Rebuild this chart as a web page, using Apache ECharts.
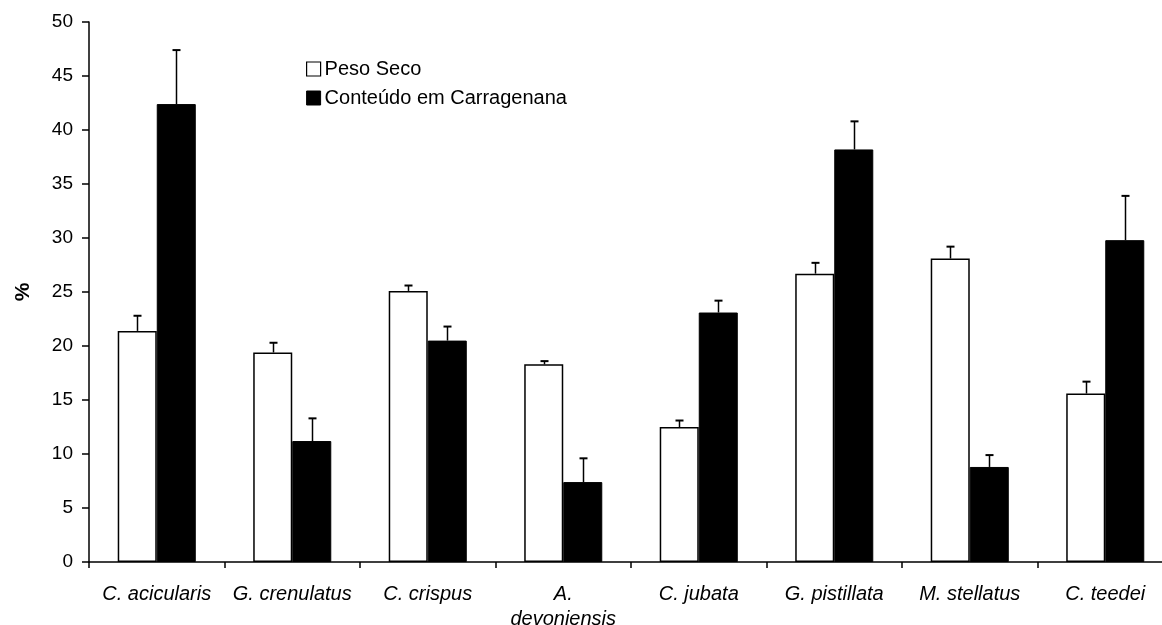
<!DOCTYPE html>
<html>
<head>
<meta charset="utf-8">
<script src="https://cdn.jsdelivr.net/npm/echarts@6/dist/echarts.min.js"></script>
<style>
html,body{margin:0;padding:0;background:#fff;}
#chart{width:1162px;height:625px;}
</style>
</head>
<body>
<div id="chart"></div>
<script>
const categories = ["C. acicularis", "G. crenulatus", "C. crispus", "A.\ndevoniensis", "C. jubata", "G. pistillata", "M. stellatus", "C. teedei"];
const seriesNames = ["Peso Seco", "Conteúdo em Carragenana"];
const pesoSeco = [21.4, 19.4, 25.1, 18.3, 12.5, 26.7, 28.1, 15.6];
const pesoSecoErr = [1.4, 0.9, 0.5, 0.3, 0.6, 1.0, 1.1, 1.1];
const carragenana = [42.4, 11.2, 20.5, 7.4, 23.1, 38.2, 8.8, 29.8];
const carragenanaErr = [5.0, 2.1, 1.3, 2.2, 1.1, 2.6, 1.1, 4.1];
const yTicks = [0, 5, 10, 15, 20, 25, 30, 35, 40, 45, 50];

const GAP = 0.424;
const FONT = "'Liberation Sans', Arial, Helvetica, sans-serif";

function errSeries(values, errs, side) {
  return {
    type: 'custom',
    z: 5,
    silent: true,
    data: values.map((v, i) => [i, v, errs[i]]),
    renderItem: function (params, api) {
      const i = api.value(0), v = api.value(1), e = api.value(2);
      const catW = api.size([1, 0])[0];
      const barW = catW * (1 - GAP) / 2;
      const base = api.coord([i, v]);
      const top = api.coord([i, v + e]);
      const x = Math.round(base[0] + side * barW / 2) + 0.5;
      return {
        type: 'group',
        children: [
          { type: 'line', shape: { x1: x, y1: base[1], x2: x, y2: top[1] }, style: { stroke: '#000', lineWidth: 1.5 } },
          { type: 'line', shape: { x1: x - 4, y1: top[1], x2: x + 4, y2: top[1] }, style: { stroke: '#000', lineWidth: 2 } }
        ]
      };
    }
  };
}

const chart = echarts.init(document.getElementById('chart'), null, { renderer: 'canvas' });
chart.setOption({
  animation: false,
  backgroundColor: '#fff',
  grid: { left: 89, top: 22, width: 1084, height: 540, containLabel: false, outerBoundsMode: 'none' },
  legend: {
    orient: 'vertical',
    left: 301,
    top: 54,
    itemWidth: 14,
    itemHeight: 14,
    itemGap: 9,
    icon: 'rect',
    textStyle: { fontFamily: FONT, fontSize: 20, color: '#000', padding: [0, 0, 0, -1] },
    data: [
      { name: seriesNames[0], itemStyle: { color: '#fff', borderColor: '#000', borderWidth: 1.2 } },
      { name: seriesNames[1], itemStyle: { color: '#000', borderColor: '#000', borderWidth: 1 } }
    ]
  },
  xAxis: {
    type: 'category',
    data: categories,
    axisLine: { lineStyle: { color: '#000', width: 1.5 } },
    axisTick: { show: true, length: 6, lineStyle: { color: '#000', width: 1.5 } },
    axisLabel: {
      interval: 0,
      margin: 20,
      color: '#000',
      fontFamily: FONT,
      fontSize: 20,
      fontStyle: 'italic',
      lineHeight: 25
    },
    splitLine: { show: false }
  },
  yAxis: {
    type: 'value',
    min: yTicks[0],
    max: yTicks[yTicks.length - 1],
    interval: 5,
    name: '%',
    nameLocation: 'middle',
    nameGap: 55,
    nameMoveOverlap: false,
    nameRotate: 90,
    nameTextStyle: { fontFamily: FONT, fontSize: 21, fontWeight: 'bold', color: '#000' },
    axisLine: { show: true, lineStyle: { color: '#000', width: 1.5 } },
    axisTick: { show: true, length: 7, lineStyle: { color: '#000', width: 1.5 } },
    axisLabel: { margin: 16, color: '#000', fontFamily: FONT, fontSize: 19 },
    splitLine: { show: false }
  },
  series: [
    {
      name: seriesNames[0],
      type: 'bar',
      data: pesoSeco,
      barGap: '0%',
      barCategoryGap: (GAP * 100) + '%',
      itemStyle: { color: '#fff', borderColor: '#000', borderWidth: 1.5 }
    },
    {
      name: seriesNames[1],
      type: 'bar',
      data: carragenana,
      barGap: '0%',
      barCategoryGap: (GAP * 100) + '%',
      itemStyle: { color: '#000', borderColor: '#000', borderWidth: 1 }
    },
    errSeries(pesoSeco, pesoSecoErr, -1),
    errSeries(carragenana, carragenanaErr, 1)
  ]
});
</script>
</body>
</html>
